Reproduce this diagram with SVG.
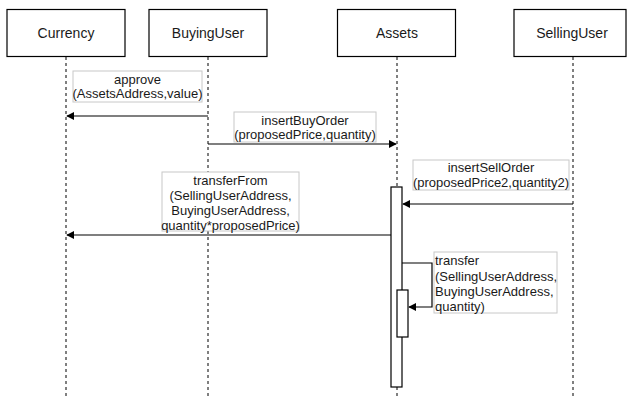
<svg xmlns="http://www.w3.org/2000/svg" width="627" height="396" viewBox="0 0 627 396">
<style>
.box{fill:#fff;stroke:#000;stroke-width:1.2}
.life{stroke:#000;stroke-width:1;stroke-dasharray:3,3;fill:none}
.name{font-family:"Liberation Sans",Arial,sans-serif;font-size:14px;fill:#1a1a1a;text-anchor:middle}
.lbl{font-family:"Liberation Sans",Arial,sans-serif;font-size:13px;fill:#1a1a1a;text-anchor:middle}
.lblbox{fill:#fff;stroke:#c8c8c8;stroke-width:1}
.msg{stroke:#000;stroke-width:1.2;fill:none;marker-end:url(#ah)}
.act{fill:#fff;stroke:#000;stroke-width:1.2}
</style>
<defs>
<marker id="ah" viewBox="0 0 10 10" refX="9" refY="5" markerWidth="8" markerHeight="8" markerUnits="userSpaceOnUse" orient="auto">
<path d="M0,0 L10,5 L0,10 z" fill="#000"/>
</marker>
</defs>
<g id="lifelines">
<line class="life" x1="66" y1="57" x2="66" y2="396"/>
<line class="life" x1="208" y1="57" x2="208" y2="396"/>
<line class="life" x1="397" y1="57" x2="397" y2="396"/>
<line class="life" x1="573" y1="57" x2="573" y2="396"/>
</g>
<g id="Currency"><rect class="box" x="7" y="9.5" width="118" height="47"/><text class="name" x="66" y="38">Currency</text></g>
<g id="BuyingUser"><rect class="box" x="149" y="9.5" width="118" height="47"/><text class="name" x="208" y="38">BuyingUser</text></g>
<g id="Assets"><rect class="box" x="337.5" y="9.5" width="118" height="47"/><text class="name" x="397" y="38">Assets</text></g>
<g id="SellingUser"><rect class="box" x="514" y="9.5" width="112" height="47"/><text class="name" x="572" y="38">SellingUser</text></g>
<g id="activations">
<rect class="act" x="391" y="187" width="11" height="200"/>
<rect class="act" x="397" y="290" width="11" height="47"/>
</g>
<g id="connectors">
<line class="msg" x1="208" y1="116" x2="67" y2="116"/>
<line class="msg" x1="208" y1="144" x2="396" y2="144"/>
<line class="msg" x1="573" y1="204" x2="403" y2="204"/>
<line class="msg" x1="391" y1="235" x2="67" y2="235"/>
<path class="msg" d="M402,263 H432 V307 H409"/>
</g>
<g id="labels">
<rect class="lblbox" x="73" y="71" width="129" height="31"/>
<text class="lbl" x="137.5" y="84">approve</text>
<text class="lbl" x="137.5" y="98">(AssetsAddress,value)</text>
<rect class="lblbox" x="234" y="112" width="142" height="30"/>
<text class="lbl" x="305" y="125">insertBuyOrder</text>
<text class="lbl" x="305" y="139">(proposedPrice,quantity)</text>
<rect class="lblbox" x="413" y="160" width="156" height="30"/>
<text class="lbl" x="491" y="172">insertSellOrder</text>
<text class="lbl" x="491" y="187">(proposedPrice2,quantity2)</text>
<rect class="lblbox" x="162" y="172" width="137" height="59"/>
<text class="lbl" x="230.5" y="185">transferFrom</text>
<text class="lbl" x="230.5" y="200">(SellingUserAddress,</text>
<text class="lbl" x="230.5" y="215">BuyingUserAddress,</text>
<text class="lbl" x="230.5" y="230">quantity*proposedPrice)</text>
<rect class="lblbox" x="434" y="252" width="123" height="61"/>
<text class="lbl" x="435" y="265" text-anchor="start" style="text-anchor:start">transfer</text>
<text class="lbl" x="435" y="281" style="text-anchor:start">(SellingUserAddress,</text>
<text class="lbl" x="435" y="296" style="text-anchor:start">BuyingUserAddress,</text>
<text class="lbl" x="435" y="311" style="text-anchor:start">quantity)</text>
</g>
</svg>
